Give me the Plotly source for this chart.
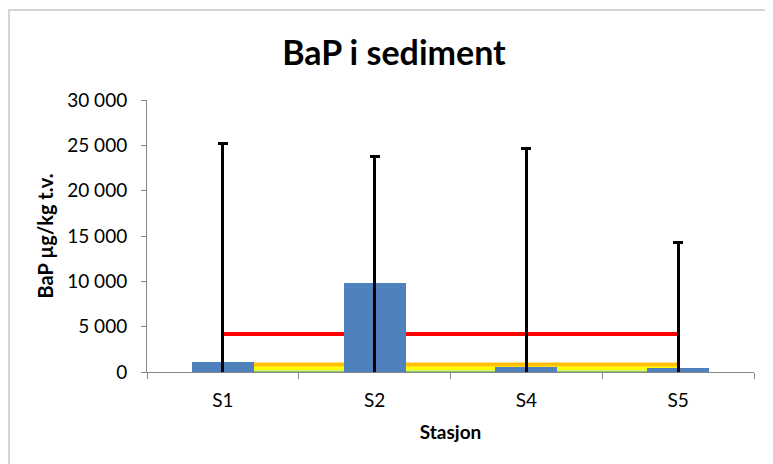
import plotly.graph_objects as go

# ---- data ----
stations = ["S1", "S2", "S4", "S5"]
bap = [1140, 9780, 520, 410]            # BaP µg/kg t.v.
bap_err = [24100, 14000, 24100, 13900]  # error (symmetric, clipped at 0)

# class limits (BaP in sediment)
limit_v = [4200, 4200, 4200, 4200]
limit_iv = [830, 830, 830, 830]
limit_iii = [420, 420, 420, 420]
limit_ii = [6, 6, 6, 6]

y_ticks = [0, 5000, 10000, 15000, 20000, 25000, 30000]

FONT = "Lato"
AXIS_COL = "#868686"

fig = go.Figure()

# class-limit lines (drawn underneath the bars)
for vals, col, w in [(limit_ii, "#92D050", 3), (limit_iii, "#FFFF00", 4),
                     (limit_iv, "#FFC000", 4), (limit_v, "#FF0000", 4)]:
    fig.add_trace(go.Scatter(x=stations, y=vals, mode="lines",
                             line=dict(color=col, width=w),
                             showlegend=False, hoverinfo="skip"))

# bars on an overlaying x axis so they sit above the lines
fig.add_trace(go.Bar(
    x=stations, y=bap, xaxis="x2", yaxis="y",
    width=0.41, marker=dict(color="#4F81BD", line=dict(width=0)),
    error_y=dict(type="data", array=bap_err, symmetric=True,
                 color="black", thickness=2.8, width=5),
    showlegend=False,
))

# page body has an 8px margin, so the figure is laid out in page coords - 8
OFF = 8
W, H = 773 - OFF, 464 - OFF
L, T = 147 - OFF, 100 - OFF
R = W - (754 - OFF)
B = H - (372 - OFF)
pw, ph = W - L - R, H - T - B

def px(x):
    return (x - OFF - L) / pw

def py(y):
    return (H - B - (y - OFF)) / ph

fig.update_layout(
    width=W, height=H,
    margin=dict(l=L, r=R, t=T, b=B),
    paper_bgcolor="white", plot_bgcolor="white",
    separators=", ",
    font=dict(family=FONT, color="black", size=19),
    title=dict(text="BaP i sediment", x=(394 - OFF) / W, xanchor="center",
               y=1 - (53 - OFF) / H, yanchor="middle",
               font=dict(family=FONT, size=34, weight="bold", color="black")),
    bargap=0,
    xaxis=dict(type="category", categoryorder="array", categoryarray=stations,
               range=[-0.5, 3.5], showline=True, linecolor=AXIS_COL, linewidth=1,
               ticks="outside", tickson="boundaries", ticklen=6, tickcolor=AXIS_COL,
               showgrid=False, zeroline=False, ticklabelstandoff=11,
               tickfont=dict(size=19),
               title=dict(text="Stasjon", standoff=15,
                          font=dict(size=19, weight="bold"))),
    xaxis2=dict(type="category", categoryorder="array", categoryarray=stations,
                range=[-0.5, 3.5], overlaying="x", visible=False),
    yaxis=dict(range=[0, 30000], tickvals=y_ticks, tickformat=",",
               showline=True, linecolor=AXIS_COL, linewidth=1,
               ticks="outside", ticklen=5, tickcolor=AXIS_COL,
               showgrid=False, zeroline=False, tickfont=dict(size=19),
               ticklabelstandoff=10,
               title=dict(text="BaP µg/kg t.v.", standoff=8,
                          font=dict(size=20, weight="bold"))),
    shapes=[dict(type="rect", xref="paper", yref="paper",
                 x0=px(9), x1=px(800), y0=py(490), y1=py(10),
                 line=dict(color="#C8C8C8", width=1.5), layer="below")],
)

fig.write_html("out.html")
